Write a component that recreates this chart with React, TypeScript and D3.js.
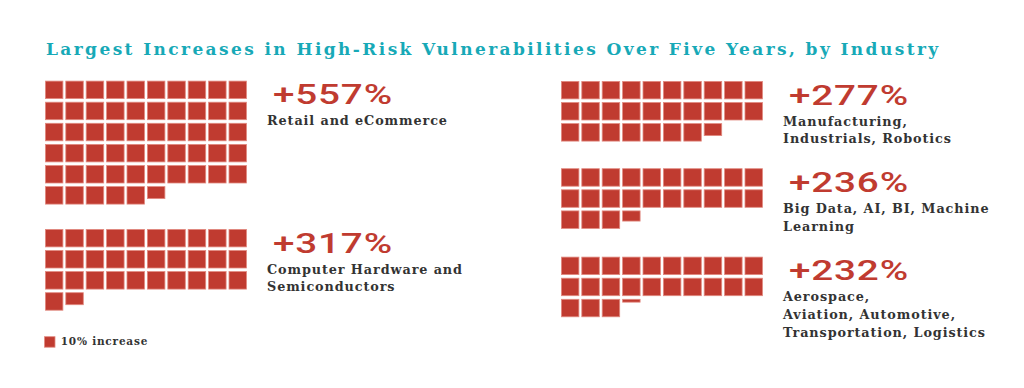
import React from "react";
import * as d3 from "d3";

const title = "Largest Increases in High-Risk Vulnerabilities Over Five Years, by Industry";
const increases = [557, 317, 277, 236, 232];
const labelLines = [
  ["Retail and eCommerce"],
  ["Computer Hardware and", "Semiconductors"],
  ["Manufacturing,", "Industrials, Robotics"],
  ["Big Data, AI, BI, Machine", "Learning"],
  ["Aerospace,", "Aviation, Automotive,", "Transportation, Logistics"],
];
const unitValue = 10;
const legendLabel = "10% increase";

const W = 1024;
const H = 388;
const RED = "#c03b30";
const TEAL = "#17a9b7";
const DARK = "#333333";
const SLAB = "'DejaVu Serif', serif";
const cols = 10;
const cell = 18.3;
const colPitch = 20.4;
const rowPitch = 21.1;
const origins = [
  { x: 45, y: 80.7 },
  { x: 45, y: 229 },
  { x: 561, y: 81 },
  { x: 561, y: 168.3 },
  { x: 561, y: 256.7 },
];

const xCol = d3.scaleLinear().domain([0, 1]).range([0, colPitch]);
const yRow = d3.scaleLinear().domain([0, 1]).range([0, rowPitch]);
const hFrac = d3.scaleLinear().domain([0, 1]).range([0, cell]);

function Waffle({ value, ox, oy, lines }: { value: number; ox: number; oy: number; lines: string[] }) {
  const n = value / unitValue;
  const full = Math.floor(n + 1e-9);
  const frac = n - full;
  const cells: { i: number; f: number }[] = [];
  for (let i = 0; i < full; i++) cells.push({ i, f: 1 });
  if (frac > 0.01) cells.push({ i: full, f: frac });
  return (
    <g transform={`translate(${ox},${oy})`}>
      {cells.map((c) => (
        <rect
          key={c.i}
          x={xCol(c.i % cols) + 0.4}
          y={yRow(Math.floor(c.i / cols)) + 0.4}
          width={cell - 0.8}
          height={Math.max(hFrac(c.f) - 0.8, 0.8)}
          fill={RED}
          stroke="#e28a80"
          strokeWidth={0.8}
        />
      ))}
      <g transform={`translate(228,23.6) scale(1.38,1)`}>
        <text
          x={0}
          y={0}
          fill={RED}
          fontFamily="Roboto, 'DejaVu Sans', sans-serif"
          fontWeight={500}
          fontSize={28}
          letterSpacing={0.6}
        >
          {`+${value}%`}
        </text>
      </g>
      {lines.map((l, k) => (
        <text
          key={k}
          x={222}
          y={44.6 + k * 17.7}
          fill={DARK}
          fontFamily={SLAB}
          fontWeight={700}
          fontSize={12.8}
          letterSpacing={0.9}
        >
          {l}
        </text>
      ))}
    </g>
  );
}

export default function App() {
  return (
    <svg
      width={W}
      height={H}
      viewBox={`0 0 ${W} ${H}`}
      style={{ position: "absolute", left: 0, top: 0, background: "#fff" }}
    >
      <rect width={W} height={H} fill="#fff" />
      <text
        x={46}
        y={55}
        fill={TEAL}
        fontFamily={SLAB}
        fontWeight={700}
        fontSize={17}
        letterSpacing={2.4}
      >
        {title}
      </text>
      {increases.map((v, i) => (
        <Waffle key={i} value={v} ox={origins[i].x} oy={origins[i].y} lines={labelLines[i]} />
      ))}
      <rect x={44.5} y={336.7} width={10.5} height={10.5} fill={RED} stroke="#e28a80" strokeWidth={0.8} />
      <text
        x={60.7}
        y={345}
        fill={DARK}
        fontFamily={SLAB}
        fontWeight={700}
        fontSize={10.5}
        letterSpacing={0.8}
      >
        {legendLabel}
      </text>
    </svg>
  );
}
